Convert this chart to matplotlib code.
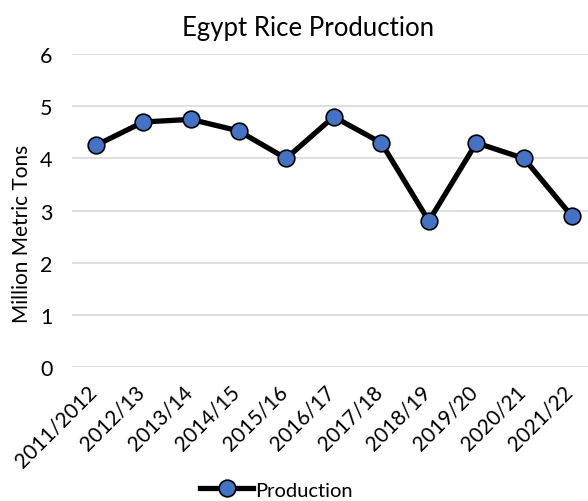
import matplotlib.pyplot as plt
import matplotlib.transforms as mtransforms

# Datos
seasons = ['2011/2012', '2012/13', '2013/14', '2014/15', '2015/16', '2016/17',
           '2017/18', '2018/19', '2019/20', '2020/21', '2021/22']
production = [4.25, 4.7, 4.75, 4.53, 4.0, 4.8, 4.3, 2.8, 4.3, 4.0, 2.9]
y_ticks = [0, 1, 2, 3, 4, 5, 6]

plt.rcParams['font.family'] = ['Lato', 'DejaVu Sans']

fig = plt.figure(figsize=(5.88, 5.02), dpi=100)
ax = fig.add_axes([0.1224, 0.267, 0.878, 0.623])

x = list(range(len(seasons)))
ax.plot(x, production, color='black', linewidth=3.8, marker='o', markersize=12,
        markerfacecolor='#4472C4', markeredgecolor='black', markeredgewidth=1.2,
        label='Production', zorder=3, clip_on=False)

ax.set_ylim(0, 6)
ax.set_yticks(y_ticks)
ax.set_xlim(-0.5, 10.35)
ax.set_xticks(x)
ax.set_xticklabels(seasons, rotation=45, ha='right', rotation_mode='anchor', fontsize=15)
ax.tick_params(axis='y', labelsize=15.5, length=0, pad=14)
ax.tick_params(axis='x', length=0, pad=10)

# desplazar etiquetas del eje x un poco a la izquierda
shift = mtransforms.ScaledTranslation(-0.09, 0, fig.dpi_scale_trans)
for lbl in ax.get_xticklabels():
    lbl.set_transform(lbl.get_transform() + shift)

ax.grid(axis='y', color='#D9D9D9', linewidth=1.2)
ax.set_axisbelow(True)
for s in ax.spines.values():
    s.set_visible(False)

ax.set_ylabel('Million Metric Tons', fontsize=15)
ax.yaxis.set_label_coords(-0.078, 0.43)
fig.text(0.524, 0.944, 'Egypt Rice Production', ha='center', va='center', fontsize=18.5)

fig.legend(loc='center', bbox_to_anchor=(0.47, 0.022), frameon=False, fontsize=14.5,
           handlelength=2.6, handletextpad=0.1, borderaxespad=0)

plt.savefig('out.png', dpi=100)
